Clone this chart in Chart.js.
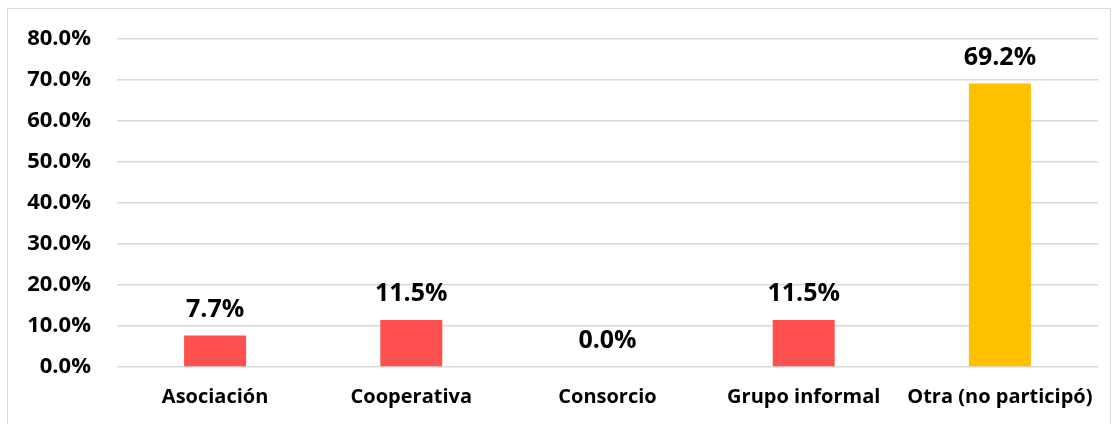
<!DOCTYPE html>
<html>
<head>
<meta charset="utf-8">
<script src="https://cdn.jsdelivr.net/npm/chart.js@4.4.1/dist/chart.umd.min.js"></script>
<style>
  html, body { margin: 0; padding: 0; background: #ffffff; }
  #wrap { position: relative; width: 1118px; height: 424px; }
  #frame { position: absolute; left: 7px; top: 8px; width: 1104px; height: 430px; border: 1px solid #d9d9d9; box-sizing: border-box; }
  canvas { position: absolute; left: 0; top: 0; }
</style>
</head>
<body>
<div id="wrap">
  <div id="frame"></div>
  <canvas id="barChart" width="1118" height="424"></canvas>
</div>
<script>
// ===== data =====
const categories = ["Asociación", "Cooperativa", "Consorcio", "Grupo informal", "Otra (no participó)"];
const percentages = [7.7, 11.5, 0.0, 11.5, 69.2];
const barColors = ["#FF5050", "#FF5050", "#FF5050", "#FF5050", "#FFC000"];
const yTicks = [0, 10, 20, 30, 40, 50, 60, 70, 80];

const fontFamily = "'Open Sans', 'Noto Sans', sans-serif";

// draws the value above each bar
const valueLabels = {
    id: "valueLabels",
    afterDatasetsDraw(chart) {
        const c = chart.ctx;
        const meta = chart.getDatasetMeta(0);
        c.save();
        c.font = "bold 25px " + fontFamily;
        c.fillStyle = "#000000";
        c.textAlign = "center";
        c.textBaseline = "middle";
        meta.data.forEach((bar, i) => {
            c.fillText(percentages[i].toFixed(1) + "%", bar.x, bar.y - 26);
        });
        c.restore();
    }
};

const ctx = document.getElementById("barChart").getContext("2d");
const barChart = new Chart(ctx, {
    type: "bar",
    data: {
        labels: categories,
        datasets: [
            {
                data: percentages,
                backgroundColor: barColors,
                borderWidth: 0,
                categoryPercentage: 1,
                barPercentage: 0.316
            }
        ]
    },
    options: {
        responsive: false,
        animation: false,
        layout: { padding: { top: 38, right: 20, bottom: 12, left: 0 } },
        plugins: {
            legend: { display: false },
            tooltip: { enabled: false }
        },
        scales: {
            x: {
                grid: { display: false, drawTicks: false },
                border: { display: false },
                ticks: {
                    color: "#000000",
                    padding: 18,
                    maxRotation: 0,
                    font: { family: fontFamily, size: 20, weight: "bold" }
                },
                afterFit(scale) { scale.height = 45; }
            },
            y: {
                min: 0,
                max: 80,
                afterBuildTicks(scale) { scale.ticks = yTicks.map(v => ({ value: v })); },
                grid: { color: "#d9d9d9", lineWidth: 1.5, drawTicks: false },
                border: { display: false },
                ticks: {
                    color: "#000000",
                    padding: 26,
                    font: { family: fontFamily, size: 22, weight: "bold" },
                    callback: (v) => v.toFixed(1) + "%"
                },
                afterFit(scale) { scale.width = 117; }
            }
        }
    },
    plugins: [valueLabels]
});
</script>
</body>
</html>
